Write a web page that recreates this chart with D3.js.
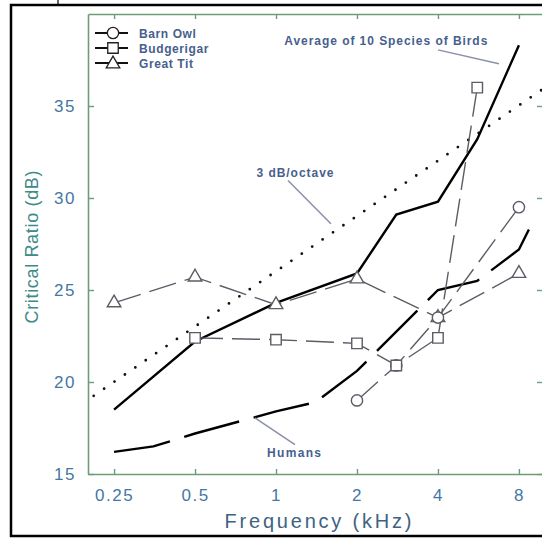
<!DOCTYPE html>
<html>
<head>
<meta charset="utf-8">
<script src="https://cdn.jsdelivr.net/npm/d3@7"></script>
<style>
body { margin: 0; background: #fff; }
svg { display: block; font-family: "Liberation Sans", Arial, sans-serif; }
</style>
</head>
<body>
<script>
// tick values
const xTicks = [0.25, 0.5, 1, 2, 4, 8];
const yTicks = [15, 20, 25, 30, 35];

// average of 10 species of birds (solid)
const avgFreq = [0.25, 0.5, 1, 2, 2.8, 4, 5.6, 8];
const avgCR = [18.5, 22.2, 24.3, 25.9, 29.1, 29.8, 33.2, 38.3];

// humans (long dashes)
const humansFreq = [0.25, 0.35, 0.5, 1, 1.4, 2, 4, 5.6, 8, 9];
const humansCR = [16.2, 16.5, 17.2, 18.4, 18.9, 20.6, 25.0, 25.5, 27.2, 28.7];

// 3 dB/octave reference (dotted)
const refFreq = [0.21, 10];
const refCR = [19.25, 36.0];

// species with markers
const barnOwlFreq = [2, 2.8, 4, 8];
const barnOwlCR = [19.0, 20.9, 23.5, 29.5];
const budgieFreq = [0.5, 1, 2, 2.8, 4, 5.6];
const budgieCR = [22.4, 22.3, 22.1, 20.9, 22.4, 36.0];
const greatTitFreq = [0.25, 0.5, 1, 2, 4, 8];
const greatTitCR = [24.3, 25.7, 24.2, 25.6, 23.5, 25.9];

const legendNames = ["Barn Owl", "Budgerigar", "Great Tit"];

const zip = (f, v) => f.map((d, i) => ({ f: d, v: v[i] }));

const width = 542, height = 538;
const svg = d3.select("body").append("svg")
    .attr("width", width)
    .attr("height", height);

// outer frame
svg.append("rect")
    .attr("x", 11).attr("y", 5)
    .attr("width", 560).attr("height", 531)
    .attr("fill", "none").attr("stroke", "#000").attr("stroke-width", 2.5);
svg.append("line")
    .attr("x1", 58).attr("x2", 58).attr("y1", 0).attr("y2", 5)
    .attr("stroke", "#000").attr("stroke-width", 1.2);

const x = d3.scaleLog().base(2)
    .domain([0.2, 10])
    .range([88, 545]);
const y = d3.scaleLinear()
    .domain([15, 40])
    .range([474, 14]);

const axisColor = "#6f9c78";
const tickText = "#4577a3";

function styleAxis(g) {
    g.select(".domain").attr("stroke", axisColor).attr("stroke-width", 1.6);
    g.selectAll(".tick line").attr("stroke", axisColor).attr("stroke-width", 1.4);
    g.selectAll(".tick text")
        .attr("fill", tickText)
        .attr("font-size", 17)
        .attr("letter-spacing", 1.5);
}

svg.append("g")
    .attr("transform", "translate(0," + y(15) + ")")
    .call(d3.axisBottom(x).tickValues(xTicks).tickFormat(d => d)
        .tickSizeInner(-5).tickSizeOuter(0).tickPadding(15))
    .call(styleAxis);

svg.append("g")
    .attr("transform", "translate(0," + y(40) + ")")
    .call(d3.axisTop(x).tickValues(xTicks).tickFormat("")
        .tickSizeInner(-5).tickSizeOuter(0))
    .call(styleAxis);

svg.append("g")
    .attr("transform", "translate(" + x(0.2) + ",0)")
    .call(d3.axisLeft(y).tickValues(yTicks)
        .tickSizeInner(-6).tickSizeOuter(0).tickPadding(12))
    .call(styleAxis);

svg.append("g")
    .attr("transform", "translate(" + x(10) + ",0)")
    .call(d3.axisRight(y).tickValues(yTicks).tickFormat("")
        .tickSizeInner(-8).tickSizeOuter(0))
    .call(styleAxis);

// axis titles
svg.append("text")
    .attr("x", 318).attr("y", 528)
    .attr("text-anchor", "middle")
    .attr("font-size", 20)
    .attr("fill", "#3d6382")
    .attr("textLength", 187).attr("lengthAdjust", "spacing")
    .text("Frequency (kHz)");

svg.append("text")
    .attr("transform", "translate(38,247) rotate(-90)")
    .attr("text-anchor", "middle")
    .attr("font-size", 18)
    .attr("fill", "#3d8a86")
    .attr("textLength", 153).attr("lengthAdjust", "spacing")
    .text("Critical Ratio (dB)");

const line = d3.line()
    .x(d => x(d.f))
    .y(d => y(d.v));

// 3 dB/octave dotted
svg.append("path")
    .datum(zip(refFreq, refCR))
    .attr("fill", "none")
    .attr("stroke", "#111")
    .attr("stroke-width", 2.8)
    .attr("stroke-linecap", "round")
    .attr("stroke-dasharray", "0,12.6")
    .attr("d", line);

// humans
svg.append("path")
    .datum(zip(humansFreq, humansCR))
    .attr("fill", "none")
    .attr("stroke", "#000")
    .attr("stroke-width", 2.4)
    .attr("stroke-dasharray", "57,15")
    .attr("d", line);

// average of birds
svg.append("path")
    .datum(zip(avgFreq, avgCR))
    .attr("fill", "none")
    .attr("stroke", "#000")
    .attr("stroke-width", 2.4)
    .attr("d", line);

const species = [
    { name: "Great Tit", data: zip(greatTitFreq, greatTitCR), symbol: d3.symbolTriangle, size: 80 },
    { name: "Barn Owl", data: zip(barnOwlFreq, barnOwlCR), symbol: d3.symbolCircle, size: 100 },
    { name: "Budgerigar", data: zip(budgieFreq, budgieCR), symbol: d3.symbolSquare, size: 110 }
];

const thinColor = "#5c5c66";

species.forEach(s => {
    svg.append("path")
        .datum(s.data)
        .attr("fill", "none")
        .attr("stroke", thinColor)
        .attr("stroke-width", 1.4)
        .attr("stroke-dasharray", "28,9")
        .attr("d", line);
});

species.forEach(s => {
    svg.append("g").selectAll("path")
        .data(s.data)
        .enter()
        .append("path")
        .attr("transform", d => "translate(" + x(d.f) + "," + y(d.v) + ")")
        .attr("d", d3.symbol().type(s.symbol).size(s.size))
        .attr("fill", "#fff")
        .attr("stroke", thinColor)
        .attr("stroke-width", 1.4);
});

// annotations, placed in data units
const noteColor = "#46608e";
const pointerColor = "#8a8fa8";
const notes = [
    { text: "Average of 10 Species of Birds", f: 2.56, v: 38.3, len: 203, from: [4.0, 38.05], to: [6.74, 37.3] },
    { text: "3 dB/octave", f: 1.176, v: 31.15, len: 77, from: [1.108, 30.95], to: [1.6, 28.6] },
    { text: "Humans", f: 1.167, v: 15.93, len: 54, from: [0.835, 18.05], to: [1.176, 16.6] }
];

notes.forEach(n => {
    svg.append("line")
        .attr("x1", x(n.from[0])).attr("y1", y(n.from[1]))
        .attr("x2", x(n.to[0])).attr("y2", y(n.to[1]))
        .attr("stroke", pointerColor)
        .attr("stroke-width", 1.5);
    svg.append("text")
        .attr("x", x(n.f)).attr("y", y(n.v))
        .attr("text-anchor", "middle")
        .attr("font-size", 12)
        .attr("font-weight", "bold")
        .attr("fill", noteColor)
        .attr("textLength", n.len).attr("lengthAdjust", "spacing")
        .text(n.text);
});

// legend
const legendSymbols = [d3.symbolCircle, d3.symbolSquare, d3.symbolTriangle];
const legendSizes = [100, 110, 80];
const legend = svg.append("g").attr("transform", "translate(95,33)");
legendNames.forEach((name, i) => {
    const row = legend.append("g").attr("transform", "translate(0," + i * 15 + ")");
    row.append("line")
        .attr("x1", 0).attr("x2", 33)
        .attr("stroke", "#111").attr("stroke-width", 2);
    row.append("path")
        .attr("transform", "translate(18," + (i === 2 ? 1 : 0) + ")")
        .attr("d", d3.symbol().type(legendSymbols[i]).size(legendSizes[i]))
        .attr("fill", "#fff")
        .attr("stroke", "#222")
        .attr("stroke-width", 1.3);
    row.append("text")
        .attr("x", 44).attr("y", 4.5)
        .attr("font-size", 12)
        .attr("font-weight", "bold")
        .attr("fill", noteColor)
        .attr("letter-spacing", 0.6)
        .text(name);
});
</script>
</body>
</html>
